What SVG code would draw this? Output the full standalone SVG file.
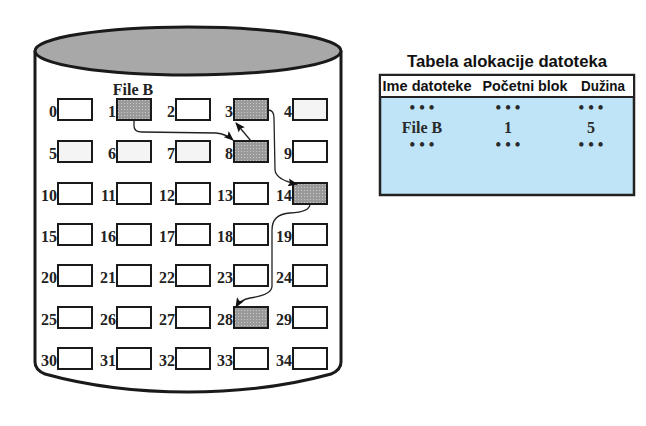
<svg xmlns="http://www.w3.org/2000/svg" width="646" height="426" viewBox="0 0 646 426">
<defs>
<pattern id="dots" width="3" height="3" patternUnits="userSpaceOnUse">
<rect width="3" height="3" fill="#9a9a9a"/>
<rect x="1" y="1" width="1" height="1" fill="#c8c8c8"/>
</pattern>
<marker id="ah" markerWidth="10" markerHeight="8" refX="9" refY="4" orient="auto" markerUnits="userSpaceOnUse">
<path d="M0,0 L10,4 L0,8 L2,4 Z" fill="#111"/>
</marker>
<style>
.blk{fill:#fff;stroke:#1a1a1a;stroke-width:2}
.lt{fill:#f4f4f4}
.sh{fill:url(#dots)}
.num{font-family:"Liberation Serif",serif;font-weight:bold;font-size:16px;fill:#222;text-anchor:end}
.conn{fill:none;stroke:#222;stroke-width:1.3;marker-end:url(#ah)}
.th{font-family:"Liberation Sans",Arial,sans-serif;font-weight:bold;font-size:14px;fill:#111;text-anchor:middle}
.td{font-family:"Liberation Serif",serif;font-weight:bold;font-size:16px;fill:#2a2a2a;text-anchor:middle}
.lbl{font-family:"Liberation Serif",serif;font-weight:bold;font-size:16px;fill:#222;text-anchor:middle}
</style>
</defs>
<g id="disk">
<path d="M35,51 L35,362 Q35,370 45,374 Q110,392 188,392 Q266,392 331,374 Q341,370 341,362 L341,51" fill="#fff" stroke="#1a1a1a" stroke-width="3"/>
<ellipse cx="188" cy="51" rx="153" ry="24" fill="#a8a8a8" stroke="#1a1a1a" stroke-width="3"/>
</g>
<g id="blocks">
<text x="133" y="95" class="lbl">File B</text>
<g id="b0"><rect x="58" y="99" width="34" height="21" class="blk"/><text x="57" y="117" class="num">0</text></g>
<g id="b1"><rect x="117" y="99" width="34" height="21" class="blk sh"/><text x="116" y="117" class="num">1</text></g>
<g id="b2"><rect x="176" y="99" width="34" height="21" class="blk"/><text x="175" y="117" class="num">2</text></g>
<g id="b3"><rect x="234" y="99" width="34" height="21" class="blk sh"/><text x="233" y="117" class="num">3</text></g>
<g id="b4"><rect x="293" y="99" width="34" height="21" class="blk lt"/><text x="292" y="117" class="num">4</text></g>
<g id="b5"><rect x="58" y="141" width="34" height="21" class="blk lt"/><text x="57" y="159" class="num">5</text></g>
<g id="b6"><rect x="117" y="141" width="34" height="21" class="blk lt"/><text x="116" y="159" class="num">6</text></g>
<g id="b7"><rect x="176" y="141" width="34" height="21" class="blk lt"/><text x="175" y="159" class="num">7</text></g>
<g id="b8"><rect x="234" y="141" width="34" height="21" class="blk sh"/><text x="233" y="159" class="num">8</text></g>
<g id="b9"><rect x="293" y="141" width="34" height="21" class="blk"/><text x="292" y="159" class="num">9</text></g>
<g id="b10"><rect x="58" y="183" width="34" height="21" class="blk"/><text x="57" y="201" class="num">10</text></g>
<g id="b11"><rect x="117" y="183" width="34" height="21" class="blk"/><text x="116" y="201" class="num">11</text></g>
<g id="b12"><rect x="176" y="183" width="34" height="21" class="blk"/><text x="175" y="201" class="num">12</text></g>
<g id="b13"><rect x="234" y="183" width="34" height="21" class="blk"/><text x="233" y="201" class="num">13</text></g>
<g id="b14"><rect x="293" y="183" width="34" height="21" class="blk sh"/><text x="292" y="201" class="num">14</text></g>
<g id="b15"><rect x="58" y="224" width="34" height="21" class="blk"/><text x="57" y="242" class="num">15</text></g>
<g id="b16"><rect x="117" y="224" width="34" height="21" class="blk"/><text x="116" y="242" class="num">16</text></g>
<g id="b17"><rect x="176" y="224" width="34" height="21" class="blk"/><text x="175" y="242" class="num">17</text></g>
<g id="b18"><rect x="234" y="224" width="34" height="21" class="blk"/><text x="233" y="242" class="num">18</text></g>
<g id="b19"><rect x="293" y="224" width="34" height="21" class="blk"/><text x="292" y="242" class="num">19</text></g>
<g id="b20"><rect x="58" y="265" width="34" height="21" class="blk"/><text x="57" y="283" class="num">20</text></g>
<g id="b21"><rect x="117" y="265" width="34" height="21" class="blk"/><text x="116" y="283" class="num">21</text></g>
<g id="b22"><rect x="176" y="265" width="34" height="21" class="blk"/><text x="175" y="283" class="num">22</text></g>
<g id="b23"><rect x="234" y="265" width="34" height="21" class="blk"/><text x="233" y="283" class="num">23</text></g>
<g id="b24"><rect x="293" y="265" width="34" height="21" class="blk"/><text x="292" y="283" class="num">24</text></g>
<g id="b25"><rect x="58" y="307" width="34" height="21" class="blk"/><text x="57" y="325" class="num">25</text></g>
<g id="b26"><rect x="117" y="307" width="34" height="21" class="blk"/><text x="116" y="325" class="num">26</text></g>
<g id="b27"><rect x="176" y="307" width="34" height="21" class="blk"/><text x="175" y="325" class="num">27</text></g>
<g id="b28"><rect x="234" y="307" width="34" height="21" class="blk sh"/><text x="233" y="325" class="num">28</text></g>
<g id="b29"><rect x="293" y="307" width="34" height="21" class="blk"/><text x="292" y="325" class="num">29</text></g>
<g id="b30"><rect x="58" y="348" width="34" height="21" class="blk"/><text x="57" y="366" class="num">30</text></g>
<g id="b31"><rect x="117" y="348" width="34" height="21" class="blk"/><text x="116" y="366" class="num">31</text></g>
<g id="b32"><rect x="176" y="348" width="34" height="21" class="blk"/><text x="175" y="366" class="num">32</text></g>
<g id="b33"><rect x="234" y="348" width="34" height="21" class="blk"/><text x="233" y="366" class="num">33</text></g>
<g id="b34"><rect x="293" y="348" width="34" height="21" class="blk"/><text x="292" y="366" class="num">34</text></g>
</g>
<g id="connectors">
<path class="conn" d="M134,121 L134,126 Q134,132 142,132 L216,133 Q226,134 233,140"/>
<path class="conn" d="M251,141 L236,123"/>
<path class="conn" d="M268,110 Q274,110 274,118 L275,170 Q276,180 297,184"/>
<path class="conn" d="M310,204 Q310,212 290,213 Q272,214 272,230 L272,286 Q272,295 250,298 Q240,300 236,307"/>
</g>
<g id="table">
<text x="507" y="67" font-family="'Liberation Sans',Arial,sans-serif" font-weight="bold" font-size="16" text-anchor="middle" fill="#111" textLength="200" lengthAdjust="spacingAndGlyphs">Tabela alokacije datoteka</text>
<rect x="380" y="75" width="254" height="120" fill="#bfe4f8" stroke="#222" stroke-width="2.5"/>
<rect x="381" y="76" width="252" height="21" fill="#fff"/>
<line x1="380" y1="97" x2="634" y2="97" stroke="#222" stroke-width="2"/>
<text x="427" y="91" class="th" textLength="89" lengthAdjust="spacingAndGlyphs">Ime datoteke</text>
<text x="525" y="91" class="th" textLength="85" lengthAdjust="spacingAndGlyphs">Početni blok</text>
<text x="603" y="91" class="th" textLength="44" lengthAdjust="spacingAndGlyphs">Dužina</text>
<text x="422" y="113" class="td">• • •</text>
<text x="508" y="113" class="td">• • •</text>
<text x="591" y="113" class="td">• • •</text>
<text x="422" y="133" class="td">File B</text>
<text x="508" y="133" class="td">1</text>
<text x="591" y="133" class="td">5</text>
<text x="422" y="150" class="td">• • •</text>
<text x="508" y="150" class="td">• • •</text>
<text x="591" y="150" class="td">• • •</text>
</g>
</svg>
